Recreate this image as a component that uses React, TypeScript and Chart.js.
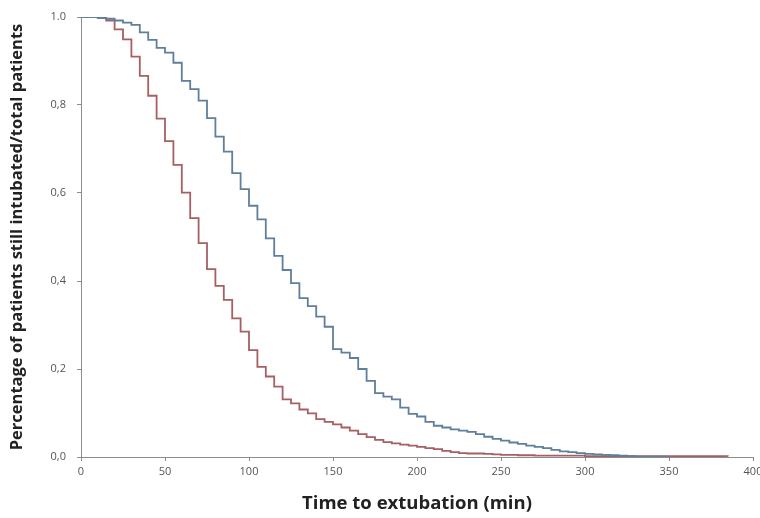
import React, { useEffect, useRef } from "react";
import { Chart, registerables } from "chart.js";

Chart.register(...registerables);

// Time (min) at which each step starts
const redTimes = [0, 5, 10, 15, 20, 25, 30, 35, 40, 45, 50, 55, 60, 65, 70, 75, 80, 85, 90, 95, 100, 105, 110, 115, 120, 125, 130, 135, 140, 145, 150, 155, 160, 165, 170, 175, 180, 185, 190, 195, 200, 205, 210, 215, 220, 225, 230, 235, 240, 245, 250, 255, 260, 265, 270, 300, 385];
const redValues = [1.0, 1.0, 0.998, 0.992, 0.972, 0.949, 0.910, 0.866, 0.821, 0.769, 0.718, 0.664, 0.601, 0.543, 0.486, 0.427, 0.389, 0.357, 0.315, 0.285, 0.243, 0.205, 0.183, 0.160, 0.131, 0.122, 0.108, 0.099, 0.086, 0.080, 0.074, 0.067, 0.060, 0.052, 0.045, 0.039, 0.034, 0.031, 0.028, 0.026, 0.023, 0.020, 0.018, 0.014, 0.011, 0.009, 0.008, 0.008, 0.007, 0.006, 0.005, 0.005, 0.004, 0.004, 0.003, 0.002, 0.001];

const blueTimes = [0, 5, 10, 15, 20, 25, 30, 35, 40, 45, 50, 55, 60, 65, 70, 75, 80, 85, 90, 95, 100, 105, 110, 115, 120, 125, 130, 135, 140, 145, 150, 155, 160, 165, 170, 175, 180, 185, 190, 195, 200, 205, 210, 215, 220, 225, 230, 235, 240, 245, 250, 255, 260, 265, 270, 275, 280, 285, 290, 295, 300, 305, 310, 315, 320, 325, 330, 350];
const blueValues = [1.0, 1.0, 0.998, 0.996, 0.992, 0.987, 0.982, 0.965, 0.948, 0.930, 0.919, 0.896, 0.855, 0.836, 0.810, 0.770, 0.728, 0.694, 0.645, 0.609, 0.571, 0.540, 0.497, 0.457, 0.425, 0.395, 0.361, 0.343, 0.319, 0.296, 0.245, 0.237, 0.225, 0.200, 0.173, 0.145, 0.137, 0.131, 0.112, 0.098, 0.092, 0.080, 0.071, 0.067, 0.063, 0.060, 0.057, 0.052, 0.046, 0.041, 0.037, 0.033, 0.030, 0.026, 0.023, 0.020, 0.016, 0.013, 0.011, 0.009, 0.007, 0.006, 0.005, 0.004, 0.003, 0.002, 0.001, 0.001];

const xTickValues = [0, 50, 100, 150, 200, 250, 300, 350, 400];
const yTickLabels = ["0,0", "0,2", "0,4", "0,6", "0,8", "1.0"];

const xTitle = "Time to extubation (min)";
const yTitle = "Percentage of patients still intubated/total patients";

export default function App() {
  const canvasRef = useRef<HTMLCanvasElement | null>(null);

  useEffect(() => {
    if (!canvasRef.current) return;
    const toPts = (ts: number[], vs: number[]) => ts.map((t, i) => ({ x: t, y: vs[i] }));
    const axisColor = "#8c8c8c";
    const chart = new Chart(canvasRef.current, {
      type: "line",
      data: {
        datasets: [
          {
            label: "A",
            data: toPts(blueTimes, blueValues),
            borderColor: "#5f7f9c",
            borderWidth: 1.8,
            pointRadius: 0,
            stepped: true,
            fill: false,
          },
          {
            label: "B",
            data: toPts(redTimes, redValues),
            borderColor: "#a65f63",
            borderWidth: 1.8,
            pointRadius: 0,
            stepped: true,
            fill: false,
          },
        ],
      },
      options: {
        animation: false,
        responsive: false,
        layout: { padding: { top: 17, right: 7, left: 0, bottom: 0 } },
        plugins: { legend: { display: false }, tooltip: { enabled: false } },
        scales: {
          x: {
            type: "linear",
            min: 0,
            max: 400,
            afterBuildTicks: (s: any) => {
              s.ticks = xTickValues.map((v) => ({ value: v }));
            },
            afterFit: (s: any) => {
              s.height = 61;
              s.paddingLeft = 0;
              s.paddingRight = 0;
            },
            ticks: {
              font: { family: "'Open Sans'", size: 11 },
              color: "#555",
              padding: 4,
              maxRotation: 0,
              autoSkip: false,
            },
            grid: { display: true, drawOnChartArea: false, drawTicks: true, tickLength: 4, color: axisColor },
            border: { color: axisColor, width: 1 },
            title: {
              display: true,
              text: xTitle,
              font: { family: "'Open Sans'", size: 18.5, weight: "bold" },
              color: "#222",
              padding: { top: 0, bottom: 3 },
            },
          },
          y: {
            type: "linear",
            min: 0,
            max: 1,
            afterBuildTicks: (s: any) => {
              s.ticks = yTickLabels.map((_, i) => ({ value: i * 0.2 }));
            },
            afterFit: (s: any) => {
              s.width = 81;
              s.paddingTop = 0;
              s.paddingBottom = 0;
            },
            ticks: {
              font: { family: "'Open Sans'", size: 11 },
              color: "#555",
              padding: 11,
              autoSkip: false,
              callback: (_v: any, i: number) => yTickLabels[i],
            },
            grid: { display: true, drawOnChartArea: false, drawTicks: true, tickLength: 4, color: axisColor },
            border: { color: axisColor, width: 1 },
            title: {
              display: true,
              text: yTitle,
              font: { family: "'Open Sans'", size: 16.5, weight: "bold" },
              color: "#222",
              padding: { top: 7, bottom: 0 },
            },
          },
        },
      },
    } as any);
    return () => chart.destroy();
  }, []);

  return (
    <div style={{ position: "absolute", left: 0, top: 0, width: 760, height: 518, background: "#fff" }}>
      <canvas ref={canvasRef} width={760} height={518} style={{ display: "block" }} />
    </div>
  );
}
